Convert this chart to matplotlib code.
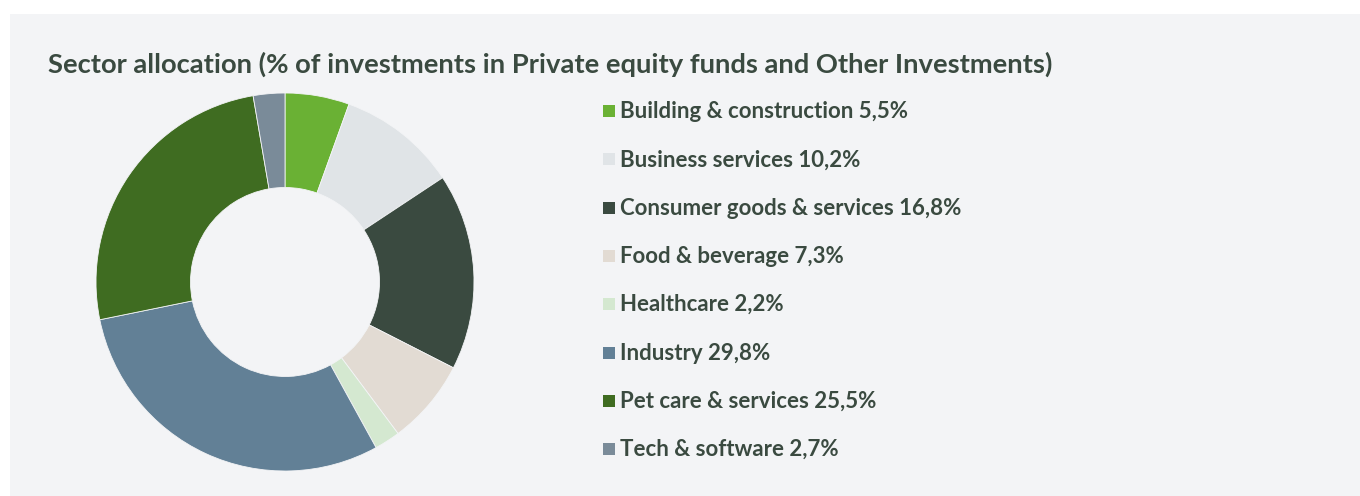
import matplotlib.pyplot as plt
from matplotlib.patches import Rectangle

sectors = ['Building & construction', 'Business services', 'Consumer goods & services',
           'Food & beverage', 'Healthcare', 'Industry', 'Pet care & services', 'Tech & software']
shares = [5.5, 10.2, 16.8, 7.3, 2.2, 29.8, 25.5, 2.7]
colors = ['#6ab134', '#e0e4e7', '#3a4a40', '#e2dbd3', '#d4e8d0', '#628096', '#3f6c21', '#7a8b99']

title = 'Sector allocation (% of investments in Private equity funds and Other Investments)'
bg = '#f3f4f6'
text_color = '#3a4a40'

W, H = 1360, 496
fig = plt.figure(figsize=(W / 100, H / 100), dpi=100)
fig.patch.set_facecolor('white')

# pannello grigio chiaro
fig.patches.append(Rectangle((10 / W, 0), 1 - 10 / W, (H - 14) / H,
                             transform=fig.transFigure, facecolor=bg, edgecolor='none', zorder=-1))

fig.text(48 / W, 1 - 72.5 / H, title, fontsize=19.7, fontweight='bold', family='Lato',
         color=text_color, va='baseline', ha='left')

# ciambella
cx, cy, r = 285, 282, 189
ax = fig.add_axes([(cx - r) / W, (H - cy - r) / H, 2 * r / W, 2 * r / H], zorder=2)
ax.pie(shares, colors=colors, startangle=90, counterclock=False, radius=1,
       wedgeprops=dict(width=0.5, edgecolor=bg, linewidth=0.6))
ax.set_xlim(-1, 1)
ax.set_ylim(-1, 1)
ax.set_aspect('equal')
ax.axis('off')

# legenda
y0, step = 118, 48.3
for i, (name, val, c) in enumerate(zip(sectors, shares, colors)):
    y = y0 + i * step
    fig.patches.append(Rectangle((603 / W, 1 - (y - 1) / H), 12 / W, 12 / H,
                                 transform=fig.transFigure, facecolor=c, edgecolor='none'))
    label = f'{name} {val:.1f}%'.replace('.', ',')
    fig.text(620 / W, 1 - y / H, label, fontsize=16, fontweight='bold', family='Lato',
             color=text_color, va='baseline', ha='left')

fig.savefig('out.png', dpi=100, facecolor='white')
